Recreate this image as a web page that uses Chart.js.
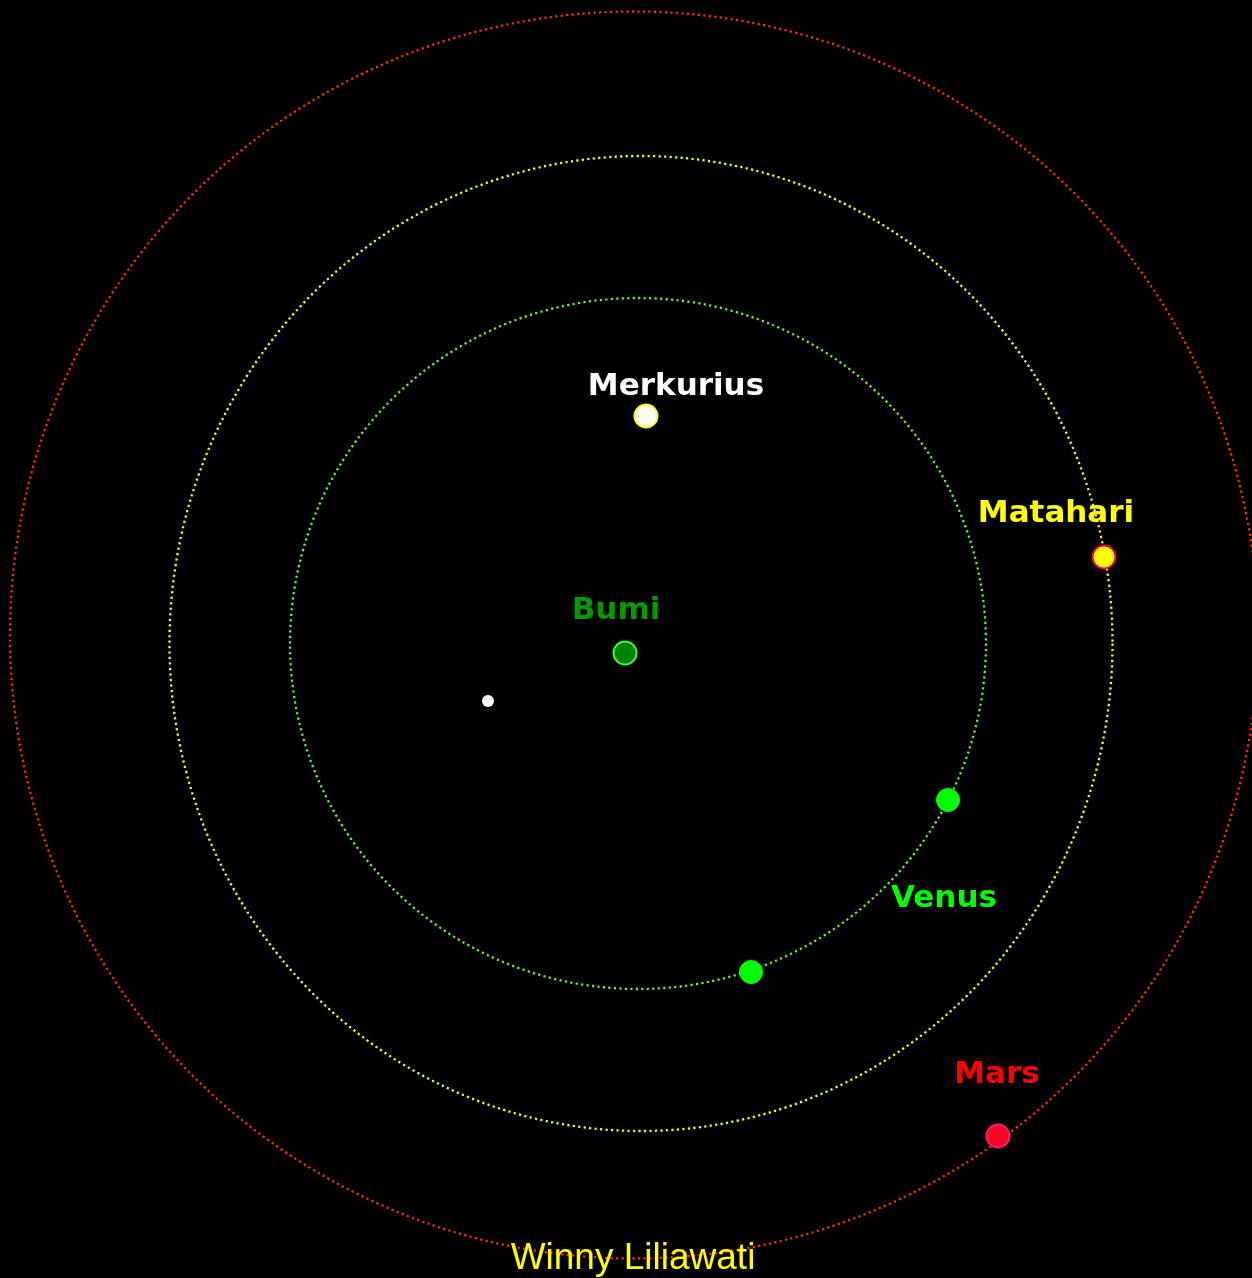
<!DOCTYPE html>
<html lang="id">
<head>
    <meta charset="UTF-8">
    <title>Orbit Planet</title>
    <script src="https://cdn.jsdelivr.net/npm/chart.js"></script>
    <style>
        * { margin: 0; padding: 0; }
        body { background: #000; }
        #chartContainer { width: 1252px; height: 1278px; background: #000; }
    </style>
</head>
<body>
    <div id="chartContainer">
        <canvas id="orbitChart"></canvas>
    </div>

    <script>
        // orbits: centre and radii in chart units
        const orbitNames = ['Mars', 'Matahari', 'Venus'];
        const orbitCx = [-4, 3, 0];
        const orbitCy = [5, -3.5, -3.5];
        const orbitRx = [624, 471.5, 348];
        const orbitRy = [623.5, 487.5, 345.5];
        const orbitColors = ['rgb(255,45,0)', '#ffff00', '#6cf22a'];

        // bodies
        const merkurius = [{ x: 8, y: 224 }];
        const matahari = [{ x: 466, y: 83 }];
        const bumi = [{ x: -13, y: -13 }];
        const bulan = [{ x: -150, y: -61 }];
        const venus = [{ x: 310, y: -160 }, { x: 113, y: -332 }];
        const mars = [{ x: 360, y: -496 }];

        // text labels
        const labelTexts = ['Merkurius', 'Matahari', 'Bumi', 'Venus', 'Mars'];
        const labelX = [38, 418, -22, 306, 359];
        const labelY = [253, 126, 29, -259, -435];
        const labelColors = ['#ffffff', '#ffff00', '#009a00', '#00ff00', '#ff0000'];
        const creditText = 'Winny Liliawati';
        const creditPos = { x: -5, y: -619 };

        const orbitPlugin = {
            id: 'orbits',
            beforeDatasetsDraw(chart) {
                const { ctx, scales: { x, y } } = chart;
                ctx.save();
                orbitNames.forEach((n, i) => {
                    const cx = x.getPixelForValue(orbitCx[i]);
                    const cy = y.getPixelForValue(orbitCy[i]);
                    const rx = Math.abs(x.getPixelForValue(orbitCx[i] + orbitRx[i]) - cx);
                    const ry = Math.abs(y.getPixelForValue(orbitCy[i] + orbitRy[i]) - cy);
                    ctx.beginPath();
                    ctx.ellipse(cx, cy, rx, ry, 0, 0, Math.PI * 2);
                    ctx.strokeStyle = orbitColors[i];
                    ctx.lineWidth = 2.3;
                    ctx.setLineDash([2.2, 3.3]);
                    ctx.stroke();
                });
                ctx.restore();
            },
            afterDatasetsDraw(chart) {
                const { ctx, scales: { x, y } } = chart;
                ctx.save();
                ctx.textAlign = 'center';
                ctx.textBaseline = 'middle';
                ctx.font = 'bold 31px "DejaVu Sans"';
                labelTexts.forEach((t, i) => {
                    ctx.fillStyle = labelColors[i];
                    ctx.fillText(t, x.getPixelForValue(labelX[i]), y.getPixelForValue(labelY[i]));
                });
                ctx.font = '37px "Liberation Sans"';
                ctx.fillStyle = '#ffff00';
                ctx.fillText(creditText, x.getPixelForValue(creditPos.x), y.getPixelForValue(creditPos.y));
                ctx.restore();
            }
        };

        const ctx = document.getElementById('orbitChart').getContext('2d');
        new Chart(ctx, {
            type: 'scatter',
            data: {
                datasets: [
                    { label: 'Merkurius', data: merkurius, pointRadius: 11.5, backgroundColor: '#ffffff', borderColor: '#ffff00', borderWidth: 2 },
                    { label: 'Matahari', data: matahari, pointRadius: 11.5, backgroundColor: '#ffff00', borderColor: 'rgb(235,0,85)', borderWidth: 2 },
                    { label: 'Bumi', data: bumi, pointRadius: 11.5, backgroundColor: '#008000', borderColor: '#33ff33', borderWidth: 2 },
                    { label: 'Bulan', data: bulan, pointRadius: 6, backgroundColor: '#ffffff', borderColor: '#ffffff', borderWidth: 0 },
                    { label: 'Venus', data: venus, pointRadius: 11.5, backgroundColor: '#00ff00', borderColor: '#00ff00', borderWidth: 1 },
                    { label: 'Mars', data: mars, pointRadius: 11.5, backgroundColor: '#ff0022', borderColor: 'rgb(255,30,110)', borderWidth: 2 }
                ]
            },
            options: {
                responsive: true,
                maintainAspectRatio: false,
                animation: false,
                layout: { padding: 0, autoPadding: false },
                scales: {
                    x: { type: 'linear', min: -638, max: 614, display: false },
                    y: { type: 'linear', min: -638, max: 640, display: false }
                },
                plugins: {
                    legend: { display: false },
                    tooltip: { enabled: false }
                }
            },
            plugins: [orbitPlugin]
        });
    </script>
</body>
</html>
